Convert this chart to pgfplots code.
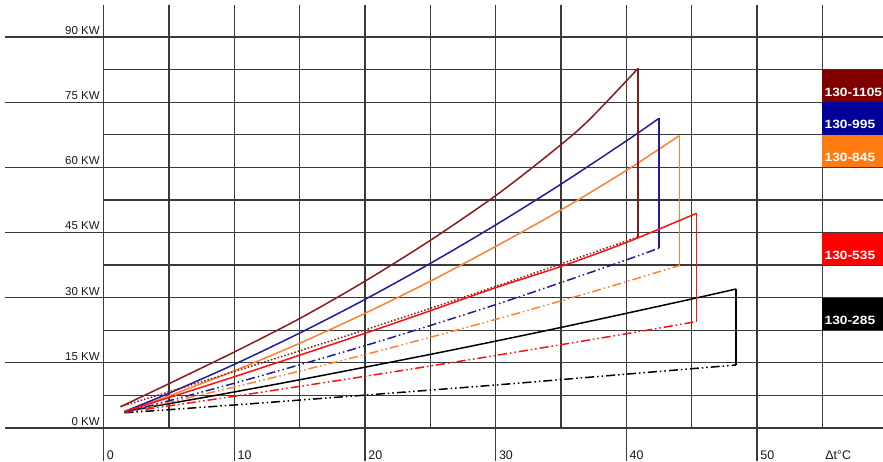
\documentclass[border=0pt]{standalone}
\usepackage{fontspec}
\setmainfont{Liberation Sans}
\usepackage{graphicx}
\usepackage{pgfplots}
\pgfplotsset{compat=1.18}
\definecolor{cdred}{HTML}{8B1A1A}
\definecolor{cblue}{HTML}{1E1E99}
\definecolor{corange}{HTML}{FF8030}
\definecolor{cred}{HTML}{FF1010}
\definecolor{bdred}{HTML}{800000}
\definecolor{bblue}{HTML}{000099}
\definecolor{borange}{HTML}{FF7A10}
\definecolor{bred}{HTML}{FF0000}
\definecolor{gridc}{HTML}{3A3A3A}
\tikzset{ddd/.style={dash pattern=on 9pt off 3pt on 1.5pt off 3pt on 1.5pt off 3pt}}
\begin{document}
\begin{tikzpicture}
\begin{axis}[
  scale only axis, width=883pt, height=461pt,
  xmin=-7.926, xmax=59.633, ymin=-7.597, ymax=98.53,
  hide axis, clip=false,
]
% grid
\pgfplotsinvokeforeach{0,15,30,45,60,75,90}{
  \draw[gridc, line width=1.3pt] (axis cs:-7.55,#1) -- (axis cs:59.633,#1);
}
\pgfplotsinvokeforeach{7.5,22.5,37.5,52.5,67.5,82.5}{
  \draw[gridc, line width=1.3pt] (axis cs:0,#1) -- (axis cs:59.633,#1);
}
\pgfplotsinvokeforeach{0,10,20,30,40,50}{
  \draw[gridc, line width=1.3pt] (axis cs:#1,97.4) -- (axis cs:#1,-7.597);
}
\pgfplotsinvokeforeach{5,15,25,35,45,55}{
  \draw[gridc, line width=1.3pt] (axis cs:#1,97.4) -- (axis cs:#1,0);
}
% legend boxes
\fill[bdred] (axis cs:55,75) rectangle (axis cs:59.633,82.5);
\fill[bblue] (axis cs:55,67.5) rectangle (axis cs:59.633,75);
\fill[borange] (axis cs:55,60) rectangle (axis cs:59.633,67.5);
\fill[bred] (axis cs:55,37.5) rectangle (axis cs:59.633,45);
\fill[black] (axis cs:55,22.5) rectangle (axis cs:59.633,30);
\begin{scope}[every node/.style={anchor=base west, text=white, font=\fontsize{12}{14}\selectfont\bfseries, inner sep=0pt}]
\node at (axis cs:55.15,76.4) {\scalebox{1.15}[1]{130-1105}};
\node at (axis cs:55.15,68.9) {\scalebox{1.15}[1]{130-995}};
\node at (axis cs:55.15,61.4) {\scalebox{1.15}[1]{130-845}};
\node at (axis cs:55.15,38.9) {\scalebox{1.15}[1]{130-535}};
\node at (axis cs:55.15,23.9) {\scalebox{1.15}[1]{130-285}};
\end{scope}
% y labels
\begin{scope}[every node/.style={anchor=base east, font=\fontsize{11.5}{13}\selectfont, inner sep=0pt, text=black!90}]
\pgfplotsinvokeforeach{0,15,30,45,60,75,90}{
  \node at (axis cs:-0.28,#1+0.6) {#1 KW};
}
\end{scope}
% x labels
\begin{scope}[every node/.style={anchor=base west, font=\fontsize{12.5}{14}\selectfont, inner sep=0pt, text=black!90}]
\pgfplotsinvokeforeach{0,10,20,30,40,50}{
  \node at (axis cs:#1+0.24,-7.14) {#1};
}
\node at (axis cs:55.2,-7.14) {Δt°C};
\end{scope}
% 130-285 (black)
\addplot[black, line width=1.5pt, smooth] coordinates {(1.6,3.8) (5,5.6) (10,8.3) (15,11.1) (20,14.0) (25,16.95) (30,20.0) (35,23.15) (40,26.4) (45,29.7) (48.4,32.0)};
\addplot[black, line width=1.5pt] coordinates {(48.4,32.0) (48.4,14.5)};
\addplot[black, line width=1.5pt, ddd, smooth] coordinates {(1.6,3.5) (10,5.3) (20,7.57) (30,9.9) (40,12.4) (48.4,14.5)};
% 130-535 (red)
\addplot[cred, line width=1.5pt, ddd, smooth] coordinates {(1.6,3.6) (10,7.3) (20,11.9) (30,16.7) (40,21.7) (45.35,24.5)};
% 130-845 (orange)
\addplot[corange, line width=1.5pt, smooth] coordinates {(1.6,3.8) (5,7.4) (10,13.17) (15,19.5) (20,26.4) (25,33.8) (30,41.8) (35,50.2) (40,59.3) (44.05,67.3)};
\addplot[corange, line width=1.5pt] coordinates {(44.05,67.3) (44.05,37.4)};
\addplot[corange, line width=1.5pt, ddd, smooth] coordinates {(1.6,3.6) (10,9.43) (20,16.9) (30,25.0) (38,31.9) (44.05,37.4)};
% 130-995 (blue)
\addplot[cblue, line width=1.5pt, smooth] coordinates {(1.6,3.8) (5,8.0) (10,14.65) (15,21.85) (20,29.6) (25,37.9) (30,46.75) (35,56.15) (40,66.1) (42.5,71.3)};
\addplot[cblue, line width=1.5pt] coordinates {(42.5,71.3) (42.5,41.4)};
\addplot[cblue, line width=1.5pt, ddd, smooth] coordinates {(1.6,3.6) (10,10.3) (20,18.95) (30,28.4) (38.2,36.8) (42.5,41.4)};
% 130-1105 (dark red)
\addplot[cdred, line width=1.5pt, smooth] coordinates {(1.3,4.9) (5,10.2) (10,17.5) (15,25.2) (20,33.8) (25,43.2) (30,53.5) (34.16,63.2) (37,70.5) (40.9,82.8)};
\addplot[cdred, line width=1.5pt] coordinates {(40.9,82.8) (40.9,44.0)};
\addplot[cdred, line width=1.5pt, dotted, smooth] coordinates {(1.3,4.9) (10,13.0) (20,22.6) (30,32.6) (40.9,44.0)};
% red solid on top
\addplot[cred, line width=1.5pt, smooth] coordinates {(1.6,3.8) (5,7.0) (10,11.8) (15,16.76) (20,21.8) (25,27.0) (30,32.3) (35,37.2) (40,42.7) (45.35,49.4)};
\addplot[cred, line width=1.5pt] coordinates {(45.35,49.4) (45.35,24.5)};
\end{axis}
\pgfresetboundingbox
\path (current axis.south west) rectangle (current axis.north east);
\end{tikzpicture}
\end{document}
